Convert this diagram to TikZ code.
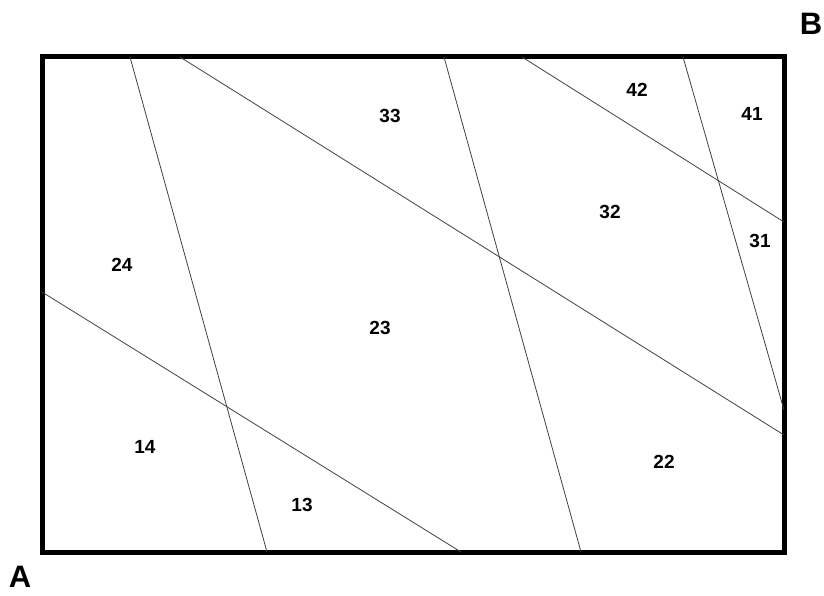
\documentclass[tikz,border=0pt]{standalone}
\usepackage{fontspec}
\setmainfont{Liberation Sans}
\usetikzlibrary{positioning}

\begin{document}
\begin{tikzpicture}[
  x=1pt, y=-1pt,
  frame/.style={draw, line width=5pt},
  cut/.style={draw, line width=0.8pt, black!75},
  region/.style={font=\fontsize{19}{22}\selectfont\bfseries},
  corner/.style={inner sep=0pt, font=\fontsize{31}{33}\selectfont\bfseries}
]
\useasboundingbox (0,0) rectangle (824,596);
\draw[frame] (42,57) rectangle (784,552);

% ends of the cuts
\coordinate (t1) at (130,57);
\coordinate (b1) at (267,552);
\coordinate (t2) at (180,57);
\coordinate (r2) at (784,435);
\coordinate (t3) at (444,57);
\coordinate (b3) at (581,552);
\coordinate (t4) at (522,57);
\coordinate (r4) at (784,222);
\coordinate (t5) at (683,57);
\coordinate (r5) at (784,410);
\coordinate (l6) at (42,292);
\coordinate (b6) at (461,552);

\draw[cut] (t1) -- (b1);
\draw[cut] (t2) -- (r2);
\draw[cut] (t3) -- (b3);
\draw[cut] (t4) -- (r4);
\draw[cut] (t5) -- (r5);
\draw[cut] (l6) -- (b6);

\node[region] (n33) at (390,116) {33};
\node[region] (n42) at (637,90) {42};
\node[region] (n41) at (752,114) {41};
\node[region] (n32) at (610,212) {32};
\node[region] (n31) at (760,241) {31};
\node[region] (n24) at (122,265) {24};
\node[region] (n23) at (380,328) {23};
\node[region] (n14) at (145,447) {14};
\node[region] (n13) at (302,505) {13};
\node[region] (n22) at (664,462) {22};

\node[corner] (A) at (20,577) {A};
\node[corner] (B) at (811,24) {B};
\end{tikzpicture}
\end{document}
